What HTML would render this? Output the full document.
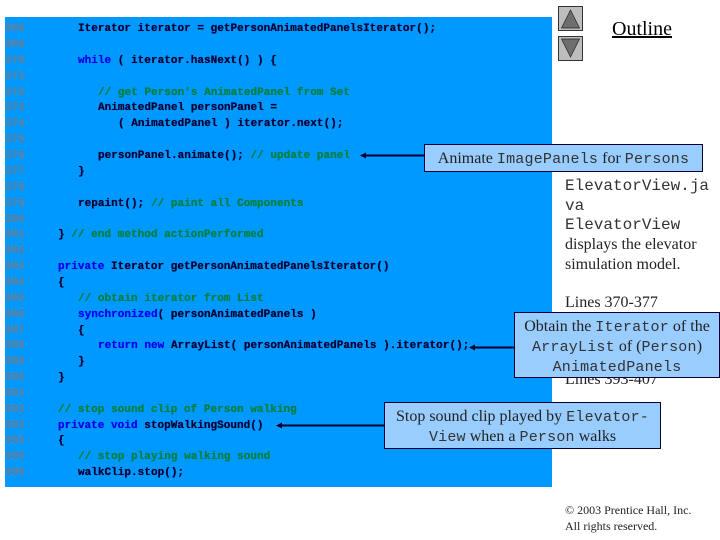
<!DOCTYPE html>
<html><head><meta charset="utf-8">
<style>
html,body{margin:0;padding:0;background:#fff}
#p{position:relative;width:720px;height:540px;overflow:hidden;background:#fff;font-family:"Liberation Serif",serif;color:#000}
#code{position:absolute;left:5px;top:17px;width:547px;height:470px;background:#0099ff}
.l{position:absolute;margin-top:1px;white-space:pre;font:bold 11px/14px "Liberation Mono",monospace;letter-spacing:.03px;color:#000033;text-shadow:0 0 .6px currentColor}
.n{color:#627f9c;left:5px}
.k{color:#0000ee}
.c{color:#00803a}
.t{position:absolute;white-space:pre;font-size:16px;line-height:20px;color:#222}
.m{font-family:"Liberation Mono",monospace;font-size:16px;color:#333}
.box{position:absolute;background:#99ccff;border:1px solid #000033;box-sizing:border-box;text-align:center;font-size:16px;line-height:19px;color:#222;white-space:pre}
.box .m{font-size:15px;letter-spacing:.2px}
</style></head><body><div id="p">
<div id="code"></div>

<div class="l n" style="top:21px">368</div><div class="l" style="left:78px;top:21px">Iterator iterator = getPersonAnimatedPanelsIterator();</div>
<div class="l n" style="top:37px">369</div>
<div class="l n" style="top:53px">370</div><div class="l" style="left:78px;top:53px"><span class="k">while</span> ( iterator.hasNext() ) {</div>
<div class="l n" style="top:69px">371</div>
<div class="l n" style="top:85px">372</div><div class="l c" style="left:98px;top:85px">// get Person's AnimatedPanel from Set</div>
<div class="l n" style="top:100px">373</div><div class="l" style="left:98px;top:100px">AnimatedPanel personPanel =</div>
<div class="l n" style="top:116px">374</div><div class="l" style="left:118px;top:116px">( AnimatedPanel ) iterator.next();</div>
<div class="l n" style="top:132px">375</div>
<div class="l n" style="top:148px">376</div><div class="l" style="left:98px;top:148px">personPanel.animate(); <span class="c">// update panel</span></div>
<div class="l n" style="top:164px">377</div><div class="l" style="left:78px;top:164px">}</div>
<div class="l n" style="top:180px">378</div>
<div class="l n" style="top:196px">379</div><div class="l" style="left:78px;top:196px">repaint(); <span class="c">// paint all Components</span></div>
<div class="l n" style="top:212px">380</div>
<div class="l n" style="top:227px">381</div><div class="l" style="left:58px;top:227px">} <span class="c">// end method actionPerformed</span></div>
<div class="l n" style="top:243px">382</div>
<div class="l n" style="top:259px">383</div><div class="l" style="left:58px;top:259px"><span class="k">private</span> Iterator getPersonAnimatedPanelsIterator()</div>
<div class="l n" style="top:275px">384</div><div class="l" style="left:58px;top:275px">{</div>
<div class="l n" style="top:291px">385</div><div class="l c" style="left:78px;top:291px">// obtain iterator from List</div>
<div class="l n" style="top:307px">386</div><div class="l" style="left:78px;top:307px"><span class="k">synchronized</span>( personAnimatedPanels )</div>
<div class="l n" style="top:323px">387</div><div class="l" style="left:78px;top:323px">{</div>
<div class="l n" style="top:338px">388</div><div class="l" style="left:98px;top:338px"><span class="k">return new</span> ArrayList( personAnimatedPanels ).iterator();</div>
<div class="l n" style="top:354px">389</div><div class="l" style="left:78px;top:354px">}</div>
<div class="l n" style="top:370px">390</div><div class="l" style="left:58px;top:370px">}</div>
<div class="l n" style="top:386px">391</div>
<div class="l n" style="top:402px">392</div><div class="l c" style="left:58px;top:402px">// stop sound clip of Person walking</div>
<div class="l n" style="top:418px">393</div><div class="l" style="left:58px;top:418px"><span class="k">private void</span> stopWalkingSound()</div>
<div class="l n" style="top:433px">394</div><div class="l" style="left:58px;top:433px">{</div>
<div class="l n" style="top:449px">395</div><div class="l c" style="left:78px;top:449px">// stop playing walking sound</div>
<div class="l n" style="top:465px">396</div><div class="l" style="left:78px;top:465px">walkClip.stop();</div>

<svg style="position:absolute;left:0;top:0" width="720" height="540">
<rect x="558.5" y="6.5" width="24" height="24" fill="#bdbdbd" stroke="#333"/>
<polygon points="570.5,10 561.5,28 579.5,28" fill="#6e6e6e" stroke="#222" stroke-width=".7"/>
<rect x="558.5" y="36.5" width="24" height="24" fill="#bdbdbd" stroke="#333"/>
<polygon points="570.5,57 561.5,39 579.5,39" fill="#6e6e6e" stroke="#222" stroke-width=".7"/>
<g stroke="#000033" stroke-width="2" fill="#000033">
<line x1="363" y1="155.5" x2="425" y2="155.5"/><polygon points="360,155.5 366,152.5 366,158.5" stroke="none"/>
<line x1="472" y1="347.5" x2="515" y2="347.5"/><polygon points="469,347.5 475,344.5 475,350.5" stroke="none"/>
<line x1="279" y1="425.5" x2="385" y2="425.5"/><polygon points="276,425.5 282,422.5 282,428.5" stroke="none"/>
</g>
</svg>

<div style="position:absolute;left:612px;top:18px;font-size:20px;line-height:22px;text-decoration:underline;color:#000">Outline</div>

<div class="t m" style="left:565px;top:177px;line-height:19px">ElevatorView.ja</div>
<div class="t m" style="left:565px;top:197px;line-height:19px">va</div>
<div class="t m" style="left:565px;top:216px;line-height:19px">ElevatorView</div>
<div class="t" style="left:565px;top:235px">displays the elevator</div>
<div class="t" style="left:565px;top:255px">simulation model.</div>
<div class="t" style="left:565px;top:293px">Lines 370-377</div>
<div class="t" style="left:565px;top:370px">Lines 393-407</div>

<div class="box" style="left:424px;top:144px;width:279px;height:28px;line-height:27px">Animate <span class="m">ImagePanels</span> for <span class="m">Persons</span></div>
<div class="box" style="left:514px;top:312px;width:206px;height:66px;padding-top:4px">Obtain the <span class="m">Iterator</span> of the
<span class="m">ArrayList</span> of (<span class="m">Person</span>)
<span class="m">AnimatedPanels</span></div>
<div class="box" style="left:384px;top:402px;width:277px;height:47px;padding-top:4px">Stop sound clip played by <span class="m">Elevator-</span>
<span class="m">View</span> when a <span class="m">Person</span> walks</div>

<div class="t" style="left:565px;top:502px;font-size:12px;line-height:16px">© 2003 Prentice Hall, Inc.
All rights reserved.</div>
</div></body></html>
